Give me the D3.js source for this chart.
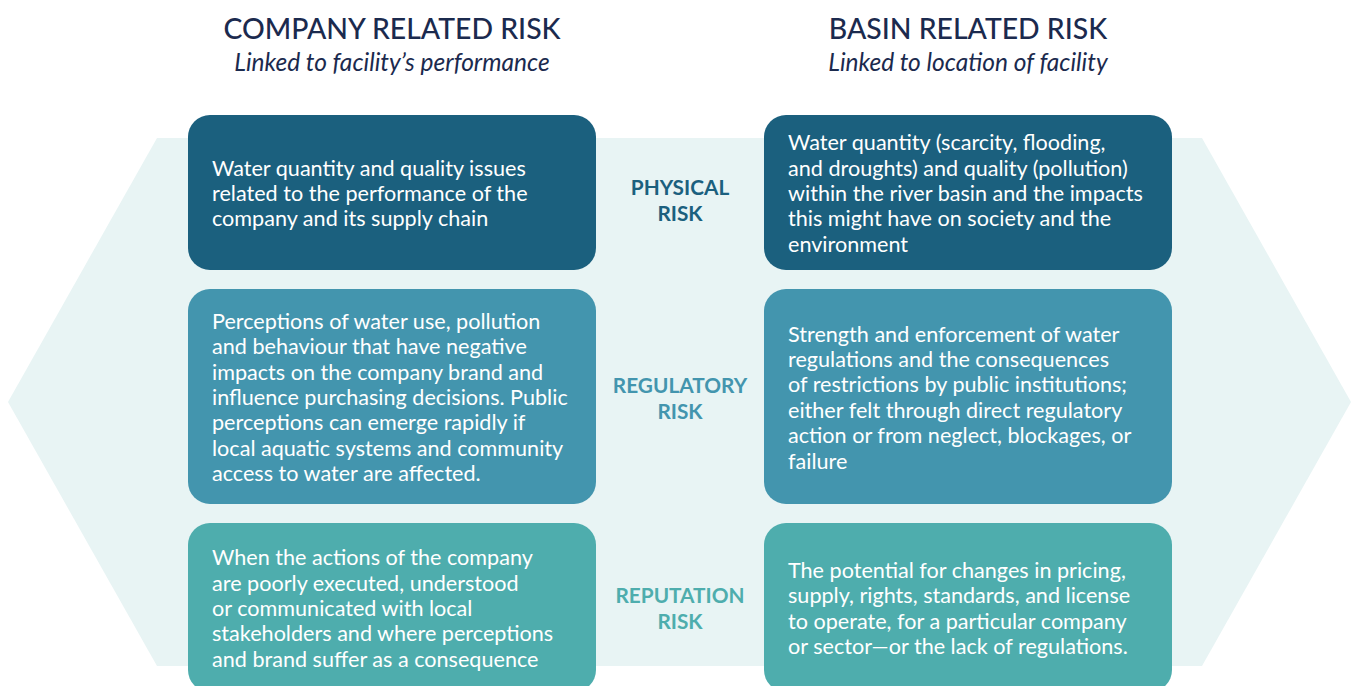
<!DOCTYPE html>
<html>
<head>
<meta charset="utf-8">
<script src="https://cdn.jsdelivr.net/npm/d3@7"></script>
<style>
  html, body { margin: 0; padding: 0; background: #fff; }
  svg { display: block; }
  text { font-family: Lato, "Noto Sans", sans-serif; }
</style>
</head>
<body>
<svg id="chart" width="1353" height="686"></svg>
<script>
"use strict"

// ---- data ----
var columns   = ["COMPANY RELATED RISK", "BASIN RELATED RISK"];
var subtitles = ["Linked to facility\u2019s performance", "Linked to location of facility"];
var risks     = [["PHYSICAL", "RISK"], ["REGULATORY", "RISK"], ["REPUTATION", "RISK"]];

var companytext = [
	["Water quantity and quality issues",
	 "related to the performance of the",
	 "company and its supply chain"],
	["Perceptions of water use, pollution",
	 "and behaviour that have negative",
	 "impacts on the company brand and",
	 "influence purchasing decisions. Public",
	 "perceptions can emerge rapidly if",
	 "local aquatic systems and community",
	 "access to water are affected."],
	["When the actions of the company",
	 "are poorly executed, understood",
	 "or communicated with local",
	 "stakeholders and where perceptions",
	 "and brand suffer as a consequence"]
];
var basintext = [
	["Water quantity (scarcity, flooding,",
	 "and droughts) and quality (pollution)",
	 "within the river basin and the impacts",
	 "this might have on society and the",
	 "environment"],
	["Strength and enforcement of water",
	 "regulations and the consequences",
	 "of restrictions by public institutions;",
	 "either felt through direct regulatory",
	 "action or from neglect, blockages, or",
	 "failure"],
	["The potential for changes in pricing,",
	 "supply, rights, standards, and license",
	 "to operate, for a particular company",
	 "or sector\u2014or the lack of regulations."]
];

// ---- layout ----
var colors  = ["#1b607e", "#4395ae", "#4eadad"];
var rowtop  = [115, 289, 523];
var rowbot  = [270, 504, 692];
var LINEH   = 25.4;
var FS      = 21.6;

var svg = d3.select("#chart");

var x = d3.scaleOrdinal().domain([0, 1]).range([188, 764]);
var titlex = d3.scaleOrdinal().domain([0, 1]).range([392, 968]);
var BOXW = 408;

// background hexagon
var hex = [[157, 138], [1202, 138], [1351, 402], [1202, 666], [157, 666], [8, 402]];
svg.append("path")
   .attr("d", d3.line()(hex) + "Z")
   .style("fill", "#e8f4f4");

// titles
var heads = svg.append("g").selectAll("g")
   .data(columns)
   .enter()
   .append("g")
   .attr("transform", function(d, i){
   	return "translate(" + titlex(i) + ",0)";
   });
heads.append("text")
   .attr("y", 39)
   .attr("text-anchor", "middle")
   .style("font-size", "28.4px")
   .style("font-weight", 500)
   .style("fill", "#1b2a4e")
   .text(function(d){ return d; });
heads.append("text")
   .attr("y", 71)
   .attr("text-anchor", "middle")
   .style("font-size", "24.5px")
   .style("font-style", "italic")
   .style("fill", "#1b2a4e")
   .text(function(d, i){ return subtitles[i]; });

// boxes
function drawcolumn(col, texts) {
	var g = svg.append("g");
	var cells = g.selectAll("g")
	   .data(texts)
	   .enter()
	   .append("g");
	cells.append("rect")
	   .attr("x", x(col))
	   .attr("y", function(d, i){ return rowtop[i]; })
	   .attr("width", BOXW)
	   .attr("height", function(d, i){ return rowbot[i] - rowtop[i]; })
	   .attr("rx", 22)
	   .style("fill", function(d, i){ return colors[i]; });
	cells.append("text")
	   .style("font-size", FS + "px")
	   .style("fill", "#fff")
	   .each(function(d, i){
	   	var mid = (rowtop[i] + rowbot[i]) / 2;
	   	var y0 = mid - (d.length - 1) * LINEH / 2 + 8.5;
	   	d3.select(this).selectAll("tspan")
	   	  .data(d)
	   	  .enter()
	   	  .append("tspan")
	   	  .attr("x", x(col) + 24)
	   	  .attr("y", function(l, j){ return y0 + j * LINEH; })
	   	  .text(function(l){ return l; });
	   });
}
drawcolumn(0, companytext);
drawcolumn(1, basintext);

// middle labels
var centers = [200, 398, 608];
svg.append("g").selectAll("text")
   .data(risks)
   .enter()
   .append("text")
   .attr("text-anchor", "middle")
   .style("font-size", "20.8px")
   .style("font-weight", 700)
   .style("fill", function(d, i){ return colors[i]; })
   .each(function(d, i){
   	d3.select(this).selectAll("tspan")
   	  .data(d)
   	  .enter()
   	  .append("tspan")
   	  .attr("x", 680)
   	  .attr("y", function(l, j){ return centers[i] - 13 + 7.5 + j * 26; })
   	  .text(function(l){ return l; });
   });
</script>
</body>
</html>
